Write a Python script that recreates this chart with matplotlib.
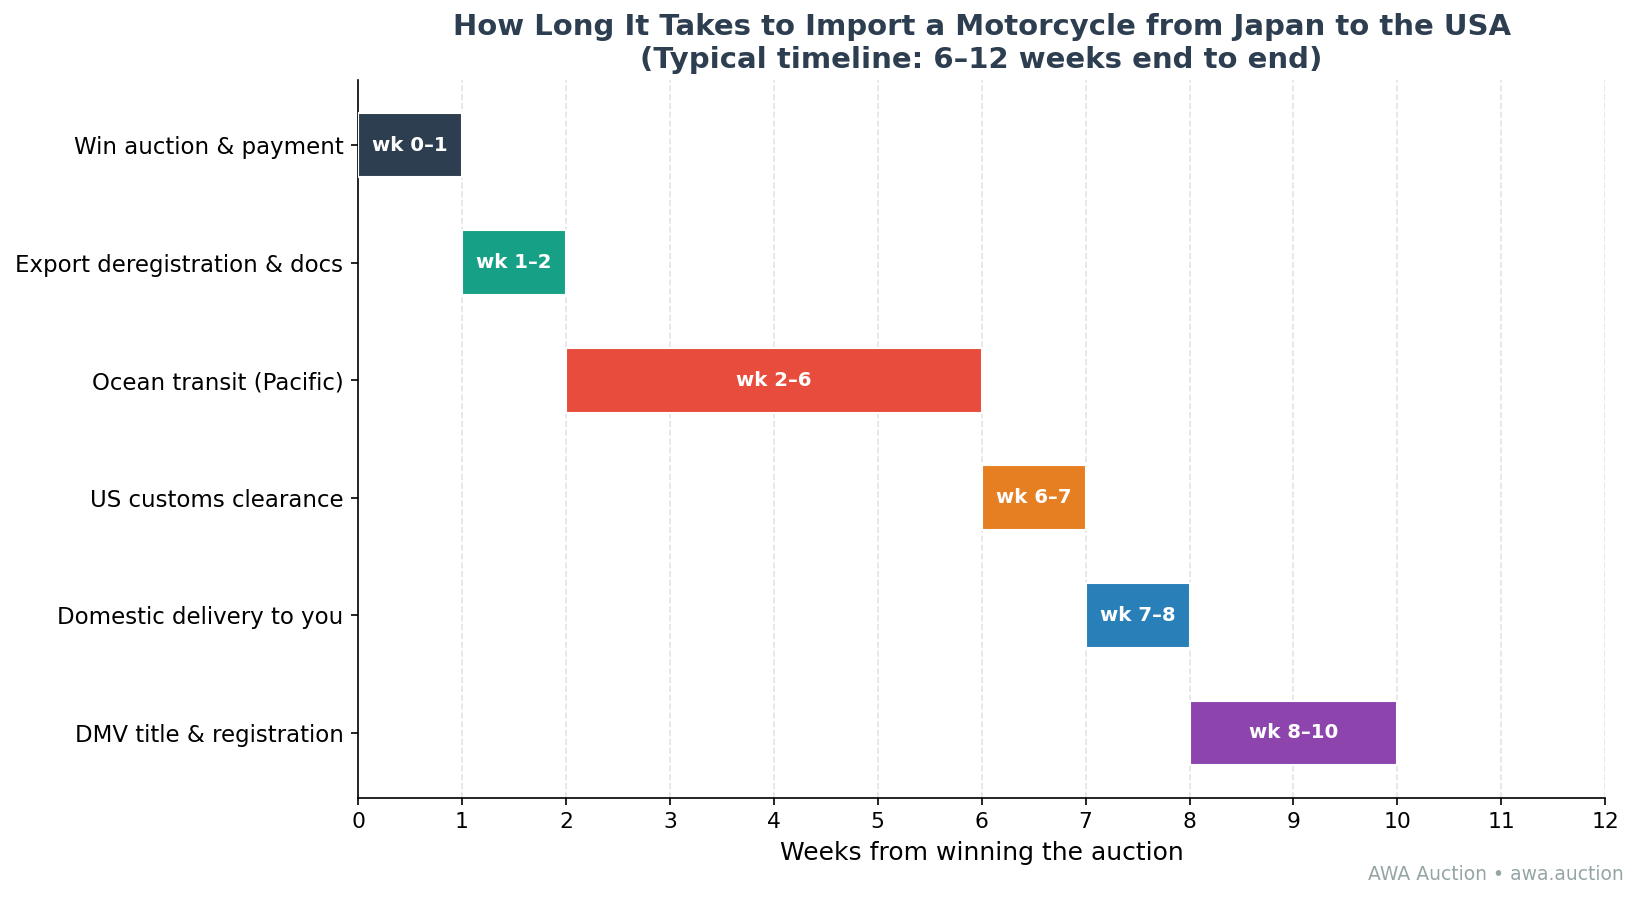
import matplotlib.pyplot as plt

# stages of the import timeline (weeks)
stages = ["Win auction & payment", "Export deregistration & docs", "Ocean transit (Pacific)",
          "US customs clearance", "Domestic delivery to you", "DMV title & registration"]
starts = [0, 1, 2, 6, 7, 8]
durations = [1, 1, 4, 1, 1, 2]
colors = ["#2c3e50", "#16a085", "#e74c3c", "#e67e22", "#2980b9", "#8e44ad"]

fig = plt.figure(figsize=(10.92, 6.007), dpi=150)
ax = fig.add_axes([0.2186, 0.1145, 0.7614, 0.7965])

ax.barh(stages, durations, left=starts, height=0.55, color=colors,
        edgecolor="white", linewidth=1.0, zorder=3)

for i, (s, d) in enumerate(zip(starts, durations)):
    ax.text(s + d / 2, i, f"wk {s}\u2013{s + d}", ha="center", va="center",
            color="white", fontsize=9.5, fontweight="bold", zorder=4)

ax.invert_yaxis()
ax.set_xlim(0, 12)
ax.set_xticks(range(0, 13))
ax.tick_params(axis="both", labelsize=10.5)
ax.tick_params(axis="y", labelsize=11)
ax.set_xlabel("Weeks from winning the auction", fontsize=12)
ax.grid(axis="x", linestyle="--", color="#dddddd", alpha=0.8, zorder=0)
ax.spines["top"].set_visible(False)
ax.spines["right"].set_visible(False)

ax.set_title("How Long It Takes to Import a Motorcycle from Japan to the USA\n"
             "(Typical timeline: 6\u201312 weeks end to end)",
             fontsize=14, fontweight="bold", color="#2c3e50", pad=6)

fig.text(0.991, 0.03, "AWA Auction \u2022 awa.auction", ha="right", va="center",
         fontsize=9, color="#95a5a6")

plt.savefig("out.png", dpi=150)
